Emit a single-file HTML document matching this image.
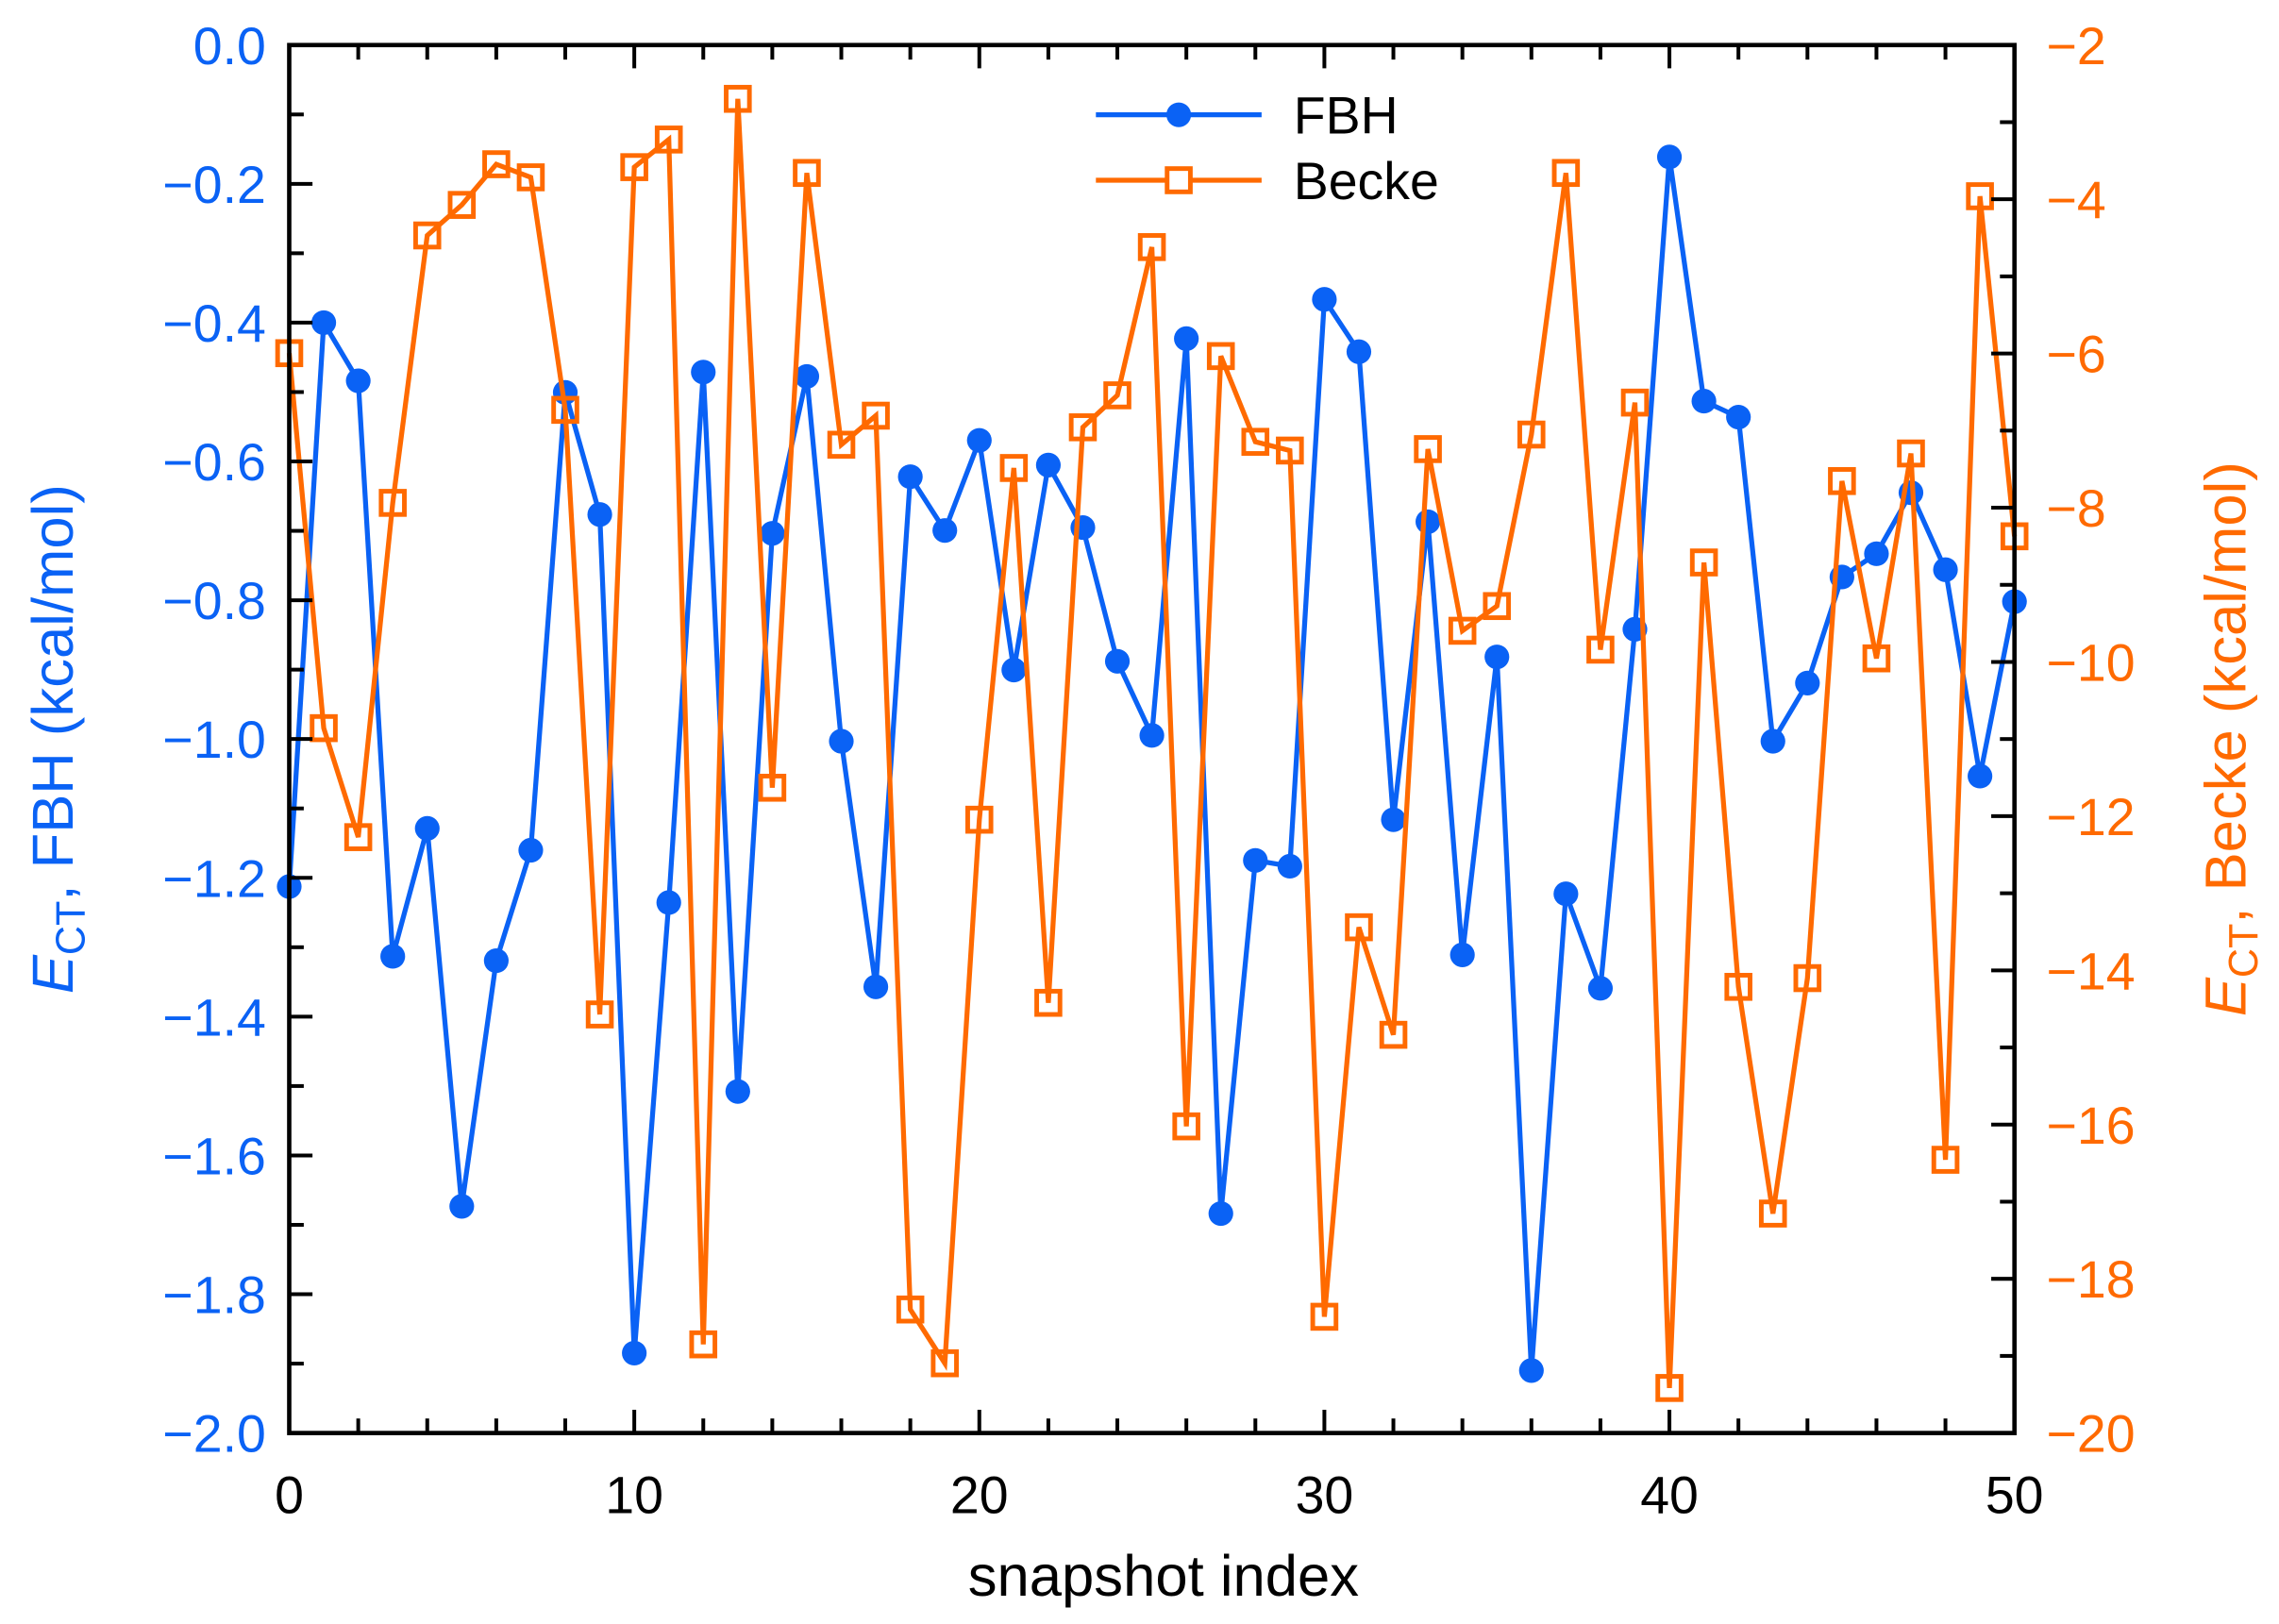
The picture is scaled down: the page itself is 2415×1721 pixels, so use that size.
<!DOCTYPE html>
<html><head><meta charset="utf-8"><style>html,body{margin:0;padding:0;background:#fff}svg{display:block}</style></head>
<body>
<svg id="s" width="2415" height="1721" viewBox="0 0 1568 1117.4" xmlns="http://www.w3.org/2000/svg" font-family="Liberation Sans, sans-serif"></svg>
<script>
const L=199,R=1386,T=31,B=986;
const fb=[610,222,262,658,570,830,661,585,270,354,931,621,256,751,367,259,510,679,328,365,303,461,320,363,455,506,233,835,592,596,206,242,564,359,657,452,943,615,680,433,108,276,287,510,470,397,381,339,392,534,414];
const bk=[243,501,576,346,162,141,113,122,282,698,115,96,925,68,542,119,306,286,901,938,564,322,690,294,272,170,775,245,304,310,906,638,712,309,434,417,299,119,447,277,955,387,679,835,673,331,453,312,798,135,369];
const X=i=>L+(R-L)*i/50;
let h='';
const blue='#0a62f5',org='#ff6a00';
h+=`<polyline fill="none" stroke="${blue}" stroke-width="3.4" points="${fb.map((y,i)=>X(i)+','+y).join(' ')}"/>`;
fb.forEach((y,i)=>h+=`<circle cx="${X(i)}" cy="${y}" r="8.5" fill="${blue}"/>`);
h+=`<polyline fill="none" stroke="${org}" stroke-width="3.4" points="${bk.map((y,i)=>X(i)+','+y).join(' ')}"/>`;
bk.forEach((y,i)=>h+=`<rect x="${X(i)-8}" y="${y-8}" width="16" height="16" fill="none" stroke="${org}" stroke-width="3.2"/>`);
h+=`<rect x="${L}" y="${T}" width="${R-L}" height="${B-T}" fill="none" stroke="#000" stroke-width="3"/>`;
for(let i=0;i<=50;i+=2){const x=X(i),len=i%10==0?16:10;h+=`<line x1="${x}" y1="${B}" x2="${x}" y2="${B-len}" stroke="#000" stroke-width="2.6"/><line x1="${x}" y1="${T}" x2="${x}" y2="${T+len}" stroke="#000" stroke-width="2.6"/>`;
 if(i%10==0)h+=`<text x="${x}" y="${B+55}" font-size="36" text-anchor="middle">${i}</text>`;}
for(let k=0;k<=20;k++){const y=T+(B-T)*k/20,len=k%2==0?16:10;h+=`<line x1="${L}" y1="${y}" x2="${L+len}" y2="${y}" stroke="#000" stroke-width="2.6"/>`;
 if(k%2==0){h+=`<text x="${L-16}" y="${y+13}" font-size="36" text-anchor="end" fill="${blue}">${k==0?'0.0':'\u2212'+(k/10).toFixed(1)}</text>`;}}
for(let k=0;k<=18;k++){const y=T+(B-T)*k/18,len=k%2==0?16:10;h+=`<line x1="${R}" y1="${y}" x2="${R-len}" y2="${y}" stroke="#000" stroke-width="2.6"/>`;
 if(k%2==0)h+=`<text x="${R+22}" y="${y+13}" font-size="36" fill="${org}">\u2212${2+k}</text>`;}
h+=`<text x="${(L+R)/2+8}" y="1098" font-size="40" text-anchor="middle">snapshot index</text>`;
h+=`<text transform="translate(50,${(T+B)/2}) rotate(-90)" font-size="40" text-anchor="middle" fill="${blue}"><tspan font-style="italic">E</tspan><tspan font-size="28" dy="8">CT</tspan><tspan dy="-8">, FBH (kcal/mol)</tspan></text>`;
h+=`<text transform="translate(1545,${(T+B)/2}) rotate(-90)" font-size="40" text-anchor="middle" fill="${org}"><tspan font-style="italic">E</tspan><tspan font-size="28" dy="8">CT</tspan><tspan dy="-8">, Becke (kcal/mol)</tspan></text>`;
h+=`<line x1="754" y1="79" x2="868" y2="79" stroke="${blue}" stroke-width="3.4"/><circle cx="811" cy="79" r="8.5" fill="${blue}"/><text x="890" y="92" font-size="36">FBH</text>`;
h+=`<line x1="754" y1="124" x2="868" y2="124" stroke="${org}" stroke-width="3.4"/><rect x="803" y="116" width="16" height="16" fill="#fff" stroke="${org}" stroke-width="3.2"/><text x="890" y="137" font-size="36">Becke</text>`;
document.getElementById('s').innerHTML=h;
</script>
</body></html>
